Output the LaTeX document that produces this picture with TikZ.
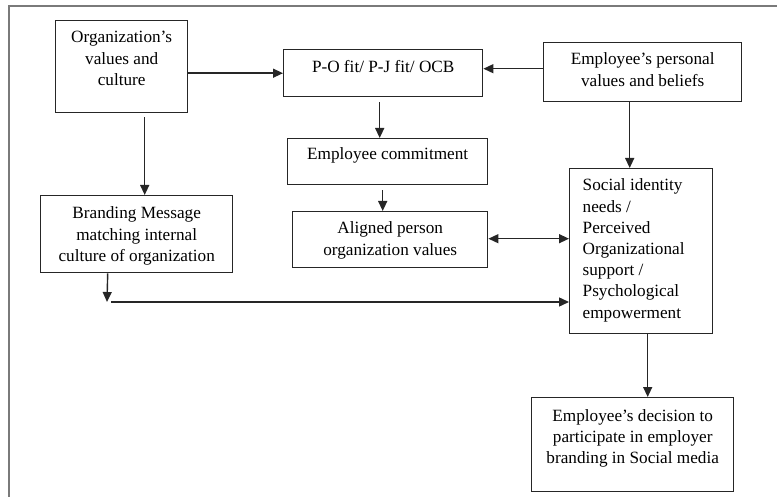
\documentclass[tikz,border=0pt]{standalone}
\usepackage{fontspec}
\setmainfont{Liberation Serif}
\usetikzlibrary{arrows.meta,calc}
\newcommand{\bxt}[5]{\begin{minipage}[c][#2pt][t]{#1pt}\vspace*{#3pt}#4\strut #5\end{minipage}}
\tikzset{
  blk/.style={draw=black!85, line width=1.4pt, inner sep=0pt, anchor=north west},
  arr/.style={draw=black!85, line width=1.4pt, -{Triangle[length=10pt,width=9pt]}},
  dbl/.style={draw=black!85, line width=1.4pt, {Triangle[length=10pt,width=9pt]}-{Triangle[length=10pt,width=9pt]}},
  frame/.style={draw=black!52, line width=2pt},
  every node/.style={font=\fontsize{17.2}{21.2}\selectfont}
}
\begin{document}
\begin{tikzpicture}[x=1pt,y=-1pt]
\useasboundingbox (0,0) rectangle (777,497);
\coordinate (ftop) at (8.5,6.5);
\coordinate (fright) at (778,6.5);
\coordinate (fbot) at (8.5,498);
\draw[frame] (fright) -- (ftop) -- (fbot);

\node[blk] (org) at (55,20) {\bxt{132}{92}{7.3}{\centering}{Organization’s\\values and\\culture}};
\node[blk] (po) at (283,49) {\bxt{199}{47}{8.3}{\centering}{P-O fit/ P-J fit/ OCB}};
\node[blk] (pers) at (543,42) {\bxt{198}{59}{7.3}{\centering}{Employee’s personal\\values and beliefs}};
\node[blk] (comm) at (287,138) {\bxt{200}{46}{6.3}{\centering}{Employee commitment}};
\node[blk] (align) at (292,211) {\bxt{195}{56}{7.3}{\centering}{Aligned person\\organization values}};
\node[blk] (brand) at (40,195) {\bxt{192}{77}{8.3}{\centering}{Branding Message\\matching internal\\culture of organization}};
\node[blk] (social) at (569,168) {\bxt{143}{165}{7.3}{\raggedright\leftskip=13pt}{Social identity\\needs /\\Perceived\\Organizational\\support /\\Psychological\\empowerment}};
\node[blk] (dec) at (531,397) {\bxt{202}{94}{9}{\centering}{Employee’s decision to\\participate in employer\\branding in Social media}};

\coordinate (bend) at (107,302);

\draw[arr] (org.east |- po.west) -- (po.west);
\draw[arr] ([yshift=3.5pt]pers.west) -- ([yshift=3.5pt]pers.west -| po.east);
\draw[arr] ([xshift=23pt,yshift=-4pt]org.south) -- ([xshift=23pt]org.south |- brand.north);
\draw[arr] ([xshift=-3.5pt,yshift=-5pt]po.south) -- ([xshift=-3.5pt]po.south |- comm.north);
\draw[arr] ([xshift=-5pt,yshift=-5pt]comm.south) -- ([xshift=-5pt]comm.south |- align.north);
\draw[arr] ([xshift=-13pt]pers.south) -- ([xshift=-13pt]pers.south |- social.north);
\draw[dbl] ([yshift=1pt]align.east) -- ([yshift=1pt]align.east -| social.west);
\draw[arr] ([xshift=-29pt]brand.south) -- (bend);
\draw[arr] ([xshift=4pt]bend) -- (bend -| social.west);
\draw[arr] ([xshift=6.5pt]social.south) -- ([xshift=6.5pt]social.south |- dec.north);
\end{tikzpicture}
\end{document}
